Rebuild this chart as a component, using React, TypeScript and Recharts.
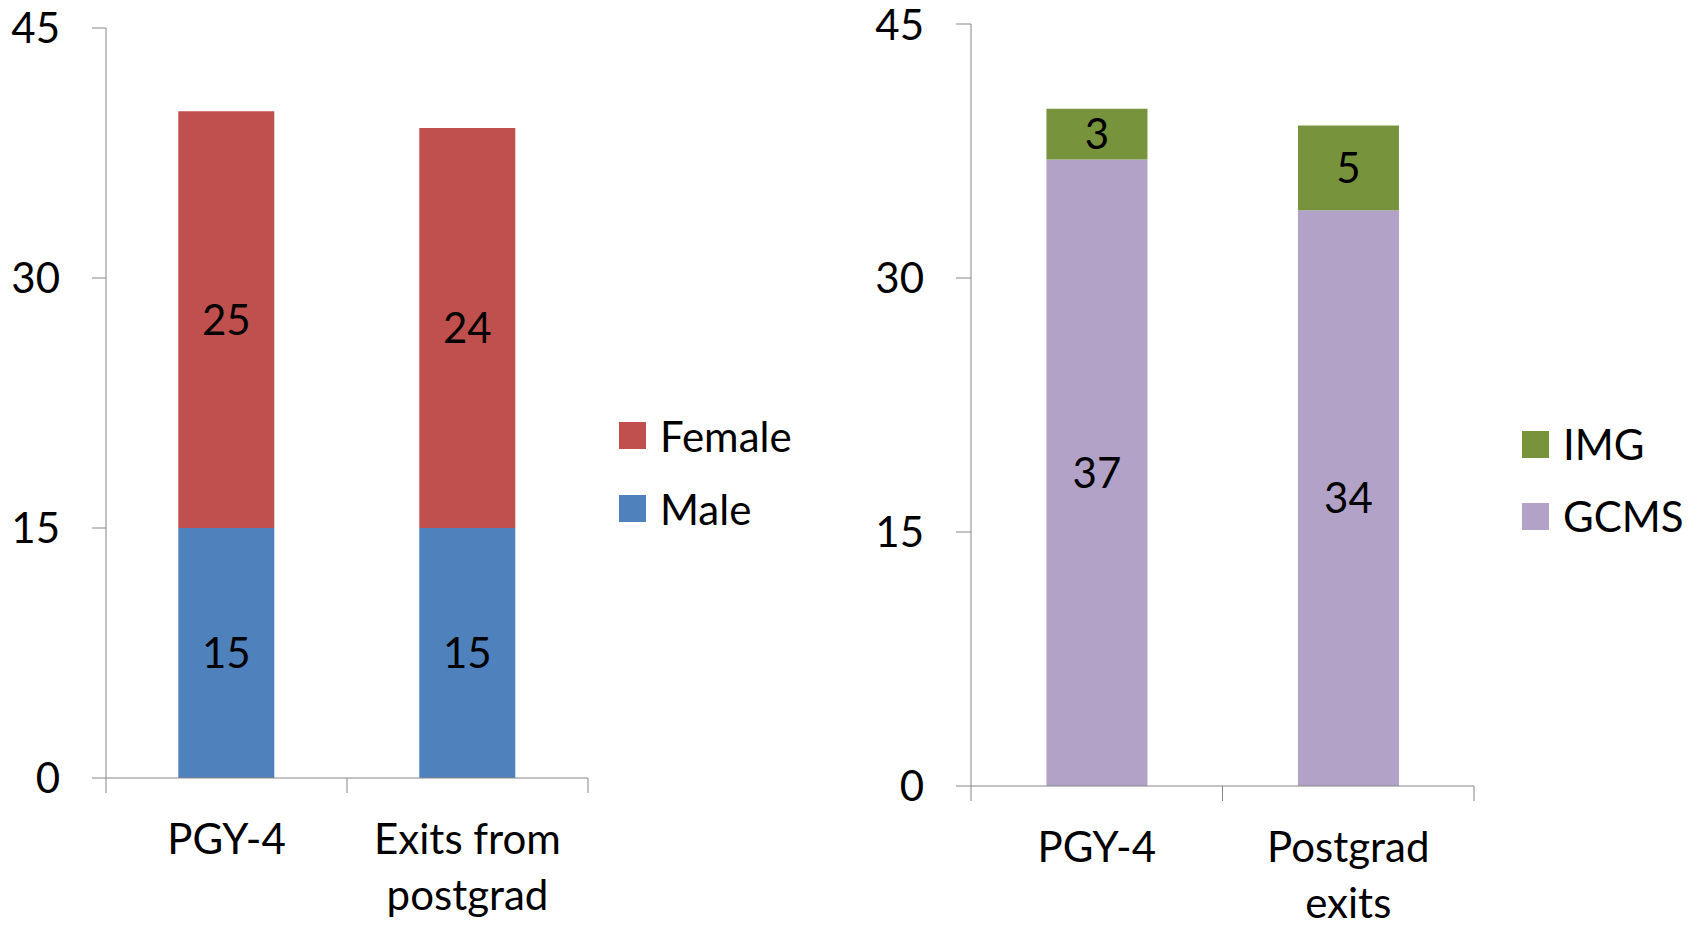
import { BarChart, Bar, XAxis, YAxis, Legend, LabelList } from "recharts";

const FONT = "Lato, 'Open Sans', sans-serif";
const AXIS_GRAY = "#868686";
const FONT_SIZE = 42;
const X_TICK_SIZE = 15;
const X_TICK_MARGIN = 31;

// Left panel: residents by gender
const genderCategories = ["PGY-4", "Exits from\npostgrad"];
const maleCounts = [15, 15];
const femaleCounts = [25, 24];
const genderLegendOrder = ["Female", "Male"];

// Right panel: residents by medical school origin
const originCategories = ["PGY-4", "Postgrad\nexits"];
const gcmsCounts = [37, 34];
const imgCounts = [3, 5];
const originLegendOrder = ["IMG", "GCMS"];

const yTicks = [0, 15, 30, 45];

const genderData = genderCategories.map((name, i) => ({
  name,
  male: maleCounts[i],
  female: femaleCounts[i],
}));

const originData = originCategories.map((name, i) => ({
  name,
  gcms: gcmsCounts[i],
  img: imgCounts[i],
}));

// Category label (multi-line) plus tick marks on the band boundaries
function CategoryTick({ x, y, payload, index, width, visibleTicksCount }: any) {
  const lines = String(payload.value).split("\n");
  const half = width / visibleTicksCount / 2;
  const axisY = y - X_TICK_SIZE - X_TICK_MARGIN;
  const marks = index === 0 ? [x - half, x + half] : [x + half];
  return (
    <g>
      {marks.map((mx) => (
        <line
          key={mx}
          x1={mx}
          x2={mx}
          y1={axisY}
          y2={axisY + X_TICK_SIZE}
          stroke={AXIS_GRAY}
        />
      ))}
      <text
        x={x}
        y={y}
        textAnchor="middle"
        fill="#000"
        style={{ fontSize: FONT_SIZE, fontFamily: FONT }}
      >
        {lines.map((line, i) => (
          <tspan key={i} x={x} dy={i === 0 ? "0.71em" : 56}>
            {line}
          </tspan>
        ))}
      </text>
    </g>
  );
}

function SwatchLegend({ payload, order, rowHeight }: any) {
  const items = [...(payload || [])].sort(
    (a: any, b: any) => order.indexOf(a.value) - order.indexOf(b.value)
  );
  return (
    <div style={{ fontFamily: FONT, fontSize: FONT_SIZE, color: "#000" }}>
      {items.map((it: any) => (
        <div
          key={it.value}
          style={{ display: "flex", alignItems: "center", height: rowHeight }}
        >
          <span
            style={{
              width: 27,
              height: 27,
              background: it.color,
              marginRight: 14,
              flex: "none",
            }}
          />
          <span style={{ lineHeight: 1 }}>{it.value}</span>
        </div>
      ))}
    </div>
  );
}

const tickStyle = { fontSize: FONT_SIZE, fontFamily: FONT, fill: "#000" };
const labelStyle = { fontSize: FONT_SIZE, fontFamily: FONT, fill: "#000" };

export default function App() {
  return (
    <div
      style={{
        position: "absolute",
        left: 0,
        top: 0,
        width: 1698,
        height: 926,
        background: "#fff",
      }}
    >
      <div style={{ position: "absolute", left: 0, top: 0 }}>
        <BarChart
          width={850}
          height={926}
          data={genderData}
          margin={{ top: 28, right: 42, left: 0, bottom: 0 }}
          barCategoryGap="30%"
        >
          <XAxis
            dataKey="name"
            height={148}
            axisLine={{ stroke: AXIS_GRAY }}
            tickLine={false}
            tickSize={X_TICK_SIZE}
            tickMargin={X_TICK_MARGIN}
            tick={<CategoryTick />}
            interval={0}
          />
          <YAxis
            width={106}
            domain={[0, 45]}
            ticks={yTicks}
            axisLine={{ stroke: AXIS_GRAY }}
            tickLine={{ stroke: AXIS_GRAY }}
            tickSize={14}
            tickMargin={32}
            tick={tickStyle}
          />
          <Legend
            layout="vertical"
            align="right"
            verticalAlign="middle"
            width={220}
            wrapperStyle={{ left: 619, top: 399 }}
            content={(props: any) => (
              <SwatchLegend
                payload={props.payload}
                order={genderLegendOrder}
                rowHeight={73}
              />
            )}
          />
          <Bar dataKey="male" name="Male" stackId="a" fill="#4F81BD" isAnimationActive={false}>
            <LabelList dataKey="male" position="center" style={labelStyle} />
          </Bar>
          <Bar dataKey="female" name="Female" stackId="a" fill="#C0504D" isAnimationActive={false}>
            <LabelList dataKey="female" position="center" style={labelStyle} />
          </Bar>
        </BarChart>
      </div>

      <div style={{ position: "absolute", left: 850, top: 0 }}>
        <BarChart
          width={848}
          height={926}
          data={originData}
          margin={{ top: 24, right: 48, left: 0, bottom: 0 }}
          barCategoryGap="30%"
        >
          <XAxis
            dataKey="name"
            height={140}
            axisLine={{ stroke: AXIS_GRAY }}
            tickLine={false}
            tickSize={X_TICK_SIZE}
            tickMargin={X_TICK_MARGIN}
            tick={<CategoryTick />}
            interval={0}
          />
          <YAxis
            width={121}
            domain={[0, 45]}
            ticks={yTicks}
            axisLine={{ stroke: AXIS_GRAY }}
            tickLine={{ stroke: AXIS_GRAY }}
            tickSize={15}
            tickMargin={32}
            tick={tickStyle}
          />
          <Legend
            layout="vertical"
            align="right"
            verticalAlign="middle"
            width={176}
            wrapperStyle={{ left: 672, top: 408 }}
            content={(props: any) => (
              <SwatchLegend
                payload={props.payload}
                order={originLegendOrder}
                rowHeight={72}
              />
            )}
          />
          <Bar dataKey="gcms" name="GCMS" stackId="a" fill="#B2A2C7" isAnimationActive={false}>
            <LabelList dataKey="gcms" position="center" style={labelStyle} />
          </Bar>
          <Bar dataKey="img" name="IMG" stackId="a" fill="#77933C" isAnimationActive={false}>
            <LabelList dataKey="img" position="center" style={labelStyle} />
          </Bar>
        </BarChart>
      </div>
    </div>
  );
}
